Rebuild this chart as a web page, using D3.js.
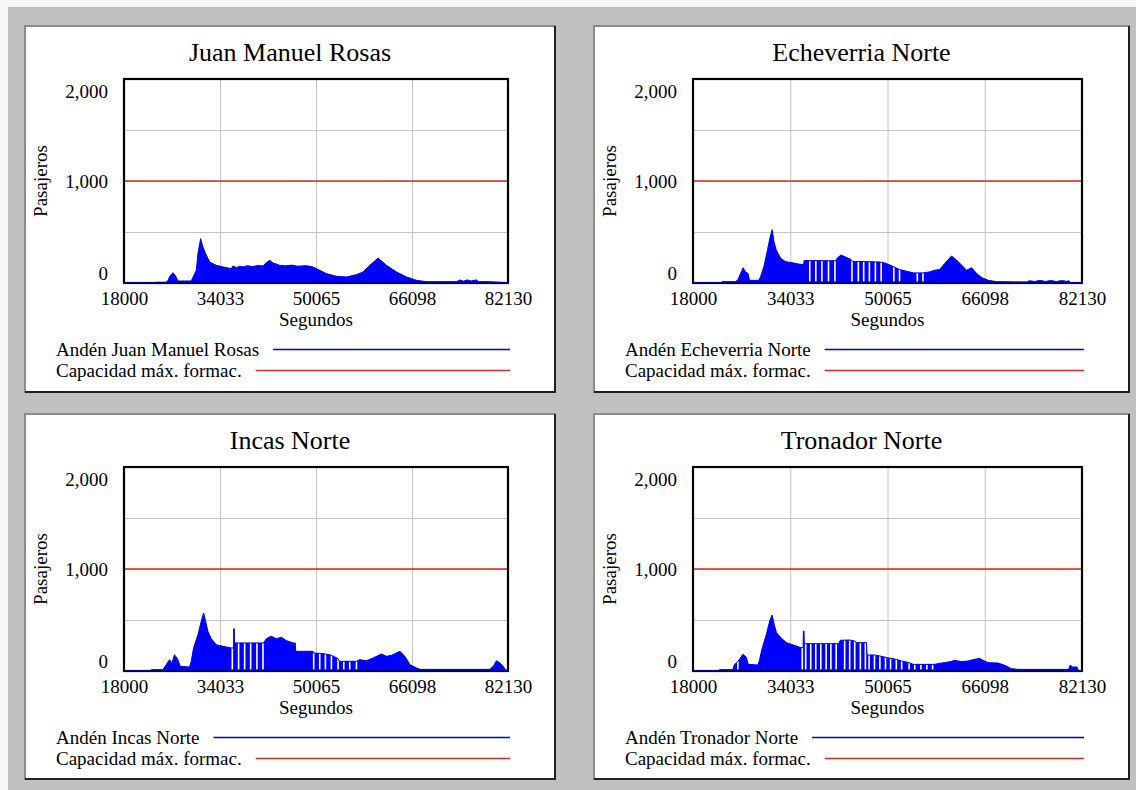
<!DOCTYPE html>
<html>
<head>
<meta charset="utf-8">
<script src="https://cdn.jsdelivr.net/npm/d3@7"></script>
<style>
  html, body { margin: 0; padding: 0; background: #c0c0c0; }
  svg { display: block; }
  text { font-family: "Liberation Serif", "Times New Roman", serif; fill: #000; }
</style>
</head>
<body>
<script>
// Eje temporal (segundos) y eje de pasajeros
const tiempoTicks = [18000, 34033, 50065, 66098, 82130];
const pasajerosTicks = [0, 1000, 2000];
const pasajerosGrid = [500, 1000, 1500];
const capacidadMaxFormacion = 1000;

const estaciones = ["Juan Manuel Rosas", "Echeverria Norte", "Incas Norte", "Tronador Norte"];

// Pasajeros en andén: pares [segundo, pasajeros]
const andenJuanManuelRosas = [
  [18000,0],[23000,0],[23400,7],[25000,7],[25300,20],[25700,70],[26170,101],[26600,70],[27000,20],
  [29230,20],[30070,124],[30350,288],[30800,435],[31180,353],[31630,288],[32300,206],[33410,173],
  [34520,157],[35920,141],[36200,167],[36800,150],[37300,165],[38000,158],[38600,170],[39500,160],
  [40300,172],[41210,167],[41800,200],[42330,222],[42890,196],[43500,185],[44000,173],[45000,168],
  [46000,175],[47000,165],[48460,170],[49570,157],[50690,124],[51800,92],[53480,65],[55150,59],
  [56820,82],[57930,108],[59050,173],[60440,245],[61840,173],[63510,108],[65180,59],[66860,26],
  [68530,13],[73540,13],[74100,30],[74700,18],[75300,30],[76000,20],[76890,30],[77200,13],
  [79110,13],[81910,3],[82130,0]
];
const andenEcheverriaNorte = [
  [18000,0],[22700,0],[22780,13],[25000,13],[25420,33],[25820,90],[26260,149],[26650,109],[27080,93],
  [27310,26],[28850,26],[29130,60],[29680,159],[30230,308],[30680,440],[31060,523],[31340,407],
  [31720,324],[32450,242],[33280,209],[34380,199],[35480,185],[36250,180],[36310,220],[41500,218],
  [41800,245],[42390,275],[43220,252],[44000,232],[44300,212],[47000,209],[49020,205],[49850,192],
  [51110,159],[52050,132],[53160,116],[54400,99],[55910,99],[57020,109],[57850,126],[58680,132],
  [59510,192],[60620,265],[61450,225],[62550,159],[63110,126],[63940,149],[64770,93],[65600,53],
  [66690,26],[68080,13],[73050,10],[73500,22],[74300,14],[75200,26],[76100,15],[77000,24],
  [77900,14],[78800,24],[79600,16],[80000,22],[80230,3],[82130,0]
];
const andenIncasNorte = [
  [18000,0],[22500,0],[22540,13],[24490,13],[25050,62],[25610,111],[26000,78],[26440,160],[27000,111],
  [27390,46],[28950,39],[29230,95],[29620,226],[30350,356],[30900,487],[31290,569],[31630,487],
  [32010,389],[32580,317],[33410,258],[34520,242],[35920,226],[36300,226],[36320,415],[36420,415],
  [36440,275],[41210,275],[41400,281],[41770,317],[42600,340],[43440,317],[44280,330],[45110,298],
  [46230,275],[46600,275],[46680,193],[49570,193],[49600,177],[51000,172],[51640,167],[52640,154],
  [53750,121],[54000,95],[56820,95],[57380,111],[58490,101],[59610,128],[61000,167],[61840,144],
  [62680,154],[64070,193],[64910,144],[65750,62],[66860,29],[67410,16],[79110,16],[79670,46],
  [80230,101],[80790,78],[81350,46],[81600,20],[82130,0]
];
const andenTronadorNorte = [
  [18000,0],[22300,0],[22340,13],[24560,13],[24830,65],[25230,82],[25660,114],[26220,164],[26770,137],
  [27110,65],[28720,59],[28980,114],[29430,229],[30100,360],[30650,491],[31040,549],[31380,458],
  [31760,376],[32590,320],[33420,278],[34530,255],[35800,229],[36150,229],[36200,392],[36300,392],
  [36350,268],[42010,268],[42270,301],[43830,304],[44660,294],[45000,278],[46600,278],[46700,157],
  [47920,157],[48810,147],[50000,131],[51520,114],[52400,98],[53630,82],[54300,65],[57790,65],
  [58330,72],[59440,82],[60540,92],[61100,105],[62200,92],[63310,98],[64420,114],[65240,124],
  [65790,105],[66620,82],[68290,78],[69400,56],[70500,23],[71610,16],[79920,16],[80200,59],
  [80470,39],[81300,39],[81580,0],[82130,0]
];

// Salidas de formaciones: el andén se vacía en esos instantes
const salidasJuanManuelRosas = [];
const salidasEcheverriaNorte = [37250,38250,39250,40340,41400,44210,45260,46140,47080,48070,49020,51110,52050,54980,55910];
const salidasIncasNorte = [36090,37140,38150,39150,40200,41210,49680,50690,51640,52640,53750,54700,55700,56820];
const salidasTronadorNorte = [25400,36020,36580,37410,38240,39070,39950,40730,41610,43000,43830,44660,45590,46420,47030,47920,48810,49740,50570,51520,52400,53630,54560,55560,56550,57500];

const series = [andenJuanManuelRosas, andenEcheverriaNorte, andenIncasNorte, andenTronadorNorte];
const salidas = [salidasJuanManuelRosas, salidasEcheverriaNorte, salidasIncasNorte, salidasTronadorNorte];

const W = 1136, H = 790;
const svg = d3.select("body").append("svg").attr("width", W).attr("height", H);
svg.append("rect").attr("width", W).attr("height", H).attr("fill", "#c0c0c0");
svg.append("rect").attr("width", W).attr("height", 7).attr("fill", "#f6f6f6");
svg.append("rect").attr("width", 8).attr("height", H).attr("fill", "#f6f6f6");

// Cuadrícula de paneles 2x2
const columnas = [{x: 24, w: 532}, {x: 593, w: 537}];
const filas = [{y: 25, h: 368}, {y: 413, h: 367}];

const fmtMiles = d3.format(",");

function dibujarPanel(i) {
  const col = columnas[i % 2], fila = filas[Math.floor(i / 2)];
  const pw = col.w, ph = fila.h;
  const g = svg.append("g").attr("transform", `translate(${col.x},${fila.y})`);

  g.append("rect").attr("width", pw).attr("height", ph).attr("fill", "#fff");
  g.append("path").attr("d", `M1,${ph} V1 H${pw}`)
    .attr("fill", "none").attr("stroke", "#8c8c8c").attr("stroke-width", 2);
  g.append("path").attr("d", `M${pw - 1},1 V${ph - 1} H1`)
    .attr("fill", "none").attr("stroke", "#202020").attr("stroke-width", 2);

  const L = 100, T = 54, B = 258, R = pw - 48;
  const x = d3.scaleLinear().domain([tiempoTicks[0], tiempoTicks[tiempoTicks.length - 1]]).range([L, R]);
  const y = d3.scaleLinear().domain([0, 2000]).range([B, T]);

  // Título
  g.append("text").attr("x", pw / 2).attr("y", 36).attr("text-anchor", "middle")
    .style("font-size", "26px").text(estaciones[i]);

  // Cuadrícula
  const gx = g.append("g").attr("transform", `translate(0,${B})`)
    .call(d3.axisBottom(x).tickValues(tiempoTicks.slice(1, -1)).tickSize(-(B - T)).tickFormat(""));
  gx.select(".domain").remove();
  gx.selectAll("line").attr("stroke", "#c4c4c4");
  const gy = g.append("g").attr("transform", `translate(${L},0)`)
    .call(d3.axisLeft(y).tickValues(pasajerosGrid).tickSize(-(R - L)).tickFormat(""));
  gy.select(".domain").remove();
  gy.selectAll("line").attr("stroke", "#c4c4c4");

  // Área de pasajeros en andén
  const datos = series[i];
  const area = d3.area().x(d => x(d[0])).y0(y(0)).y1(d => y(d[1]));
  const clipId = "clipArea" + i;
  g.append("clipPath").attr("id", clipId).append("path").attr("d", area(datos));
  g.append("path").attr("d", area(datos)).attr("fill", "#0000ff");
  g.append("g").attr("clip-path", `url(#${clipId})`)
    .selectAll("line").data(salidas[i]).join("line")
    .attr("x1", d => x(d)).attr("x2", d => x(d))
    .attr("y1", y(0) - 1.5).attr("y2", T)
    .attr("stroke", "#fff").attr("stroke-width", 1.6);
  g.append("path").attr("d", d3.line().x(d => x(d[0])).y(d => y(d[1]))(datos))
    .attr("fill", "none").attr("stroke", "#0000e0").attr("stroke-width", 1);

  // Capacidad máxima
  g.append("line").attr("x1", L).attr("x2", R)
    .attr("y1", y(capacidadMaxFormacion)).attr("y2", y(capacidadMaxFormacion))
    .attr("stroke", "#d42a2a").attr("stroke-width", 1.6);

  // Marco del gráfico
  g.append("rect").attr("x", L).attr("y", T).attr("width", R - L).attr("height", B - T)
    .attr("fill", "none").attr("stroke", "#000").attr("stroke-width", 2.2);
  g.append("line").attr("x1", L).attr("x2", R).attr("y1", B - 0.5).attr("y2", B - 0.5)
    .attr("stroke", "#00008c").attr("stroke-width", 1);

  // Etiquetas de ejes
  const ax = g.append("g").attr("transform", `translate(0,${B})`)
    .call(d3.axisBottom(x).tickValues(tiempoTicks).tickSize(0).tickPadding(9).tickFormat(d3.format("d")));
  ax.select(".domain").remove();
  ax.selectAll("text").style("font-size", "19px").attr("fill", "#000");

  const ay = g.append("g").attr("transform", `translate(${L},0)`)
    .call(d3.axisLeft(y).tickValues(pasajerosTicks).tickSize(0).tickPadding(16).tickFormat(fmtMiles));
  ay.select(".domain").remove();
  ay.selectAll("text").style("font-size", "19px").attr("fill", "#000")
    .attr("dy", d => d === 2000 ? "18px" : d === 0 ? "-4px" : "6.5px");

  g.append("text").attr("transform", `translate(23,${(T + B) / 2}) rotate(-90)`)
    .attr("text-anchor", "middle").style("font-size", "19px").text("Pasajeros");
  g.append("text").attr("x", (L + R) / 2).attr("y", B + 43).attr("text-anchor", "middle")
    .style("font-size", "19px").text("Segundos");

  // Leyenda
  const leyenda = [
    {texto: "Andén " + estaciones[i], color: "#0000c0", y: 331},
    {texto: "Capacidad máx. formac.", color: "#d42a2a", y: 352}
  ];
  leyenda.forEach(item => {
    const t = g.append("text").attr("x", 32).attr("y", item.y)
      .style("font-size", "19px").text(item.texto);
    const fin = 32 + t.node().getComputedTextLength();
    g.append("line").attr("x1", fin + 14).attr("x2", R + 2)
      .attr("y1", item.y - 6.5).attr("y2", item.y - 6.5)
      .attr("stroke", item.color).attr("stroke-width", 1.5);
  });
}

for (let i = 0; i < 4; i++) dibujarPanel(i);
</script>
</body>
</html>
